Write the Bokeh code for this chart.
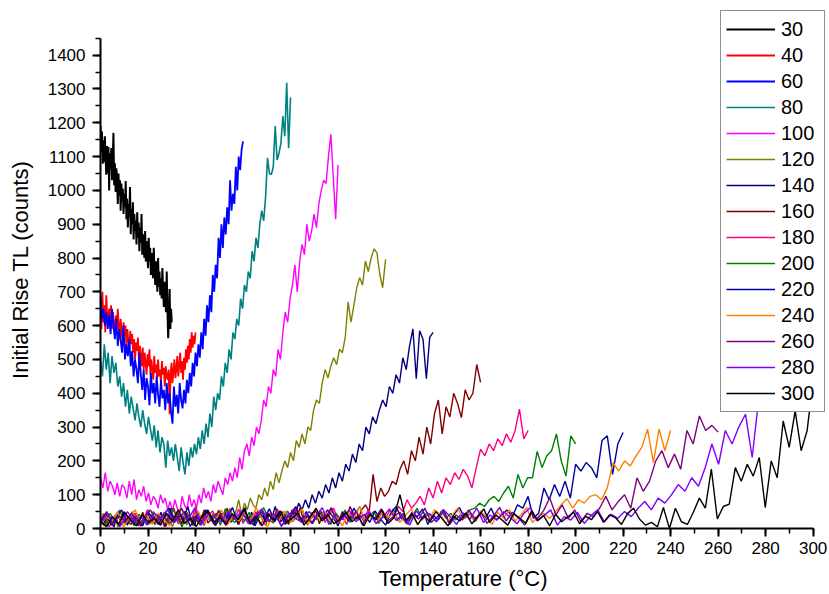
import numpy as np
from bokeh.plotting import figure
from bokeh.models import Range1d, SingleIntervalTicker
from bokeh.embed import file_html
from bokeh.resources import INLINE

# legend names = preheat temperature; each curve runs from 0 to that temperature
names = ["30", "40", "60", "80", "100", "120", "140", "160", "180", "200",
         "220", "240", "260", "280", "300"]
stops = [30, 40, 60, 80, 100, 120, 140, 160, 180, 200, 220, 240, 260, 280, 300]
colors = ["#000000", "#FF0000", "#0000FF", "#008080", "#FF00FF", "#808000",
          "#000080", "#800000", "#FF0080", "#008000", "#0000A0", "#FF8000",
          "#800080", "#8000FF", "#000000"]
widths = [2.0, 1.8, 1.8, 1.6, 1.4, 1.4, 1.4, 1.4, 1.4, 1.4, 1.4, 1.4, 1.4, 1.4, 1.4]

y30 = [1190, 1115, 1174, 1079, 1148, 1083, 1160, 1102, 1046, 1131,
       1051, 1128, 1000, 1110, 1062, 1125, 1030, 1092, 1170, 1015,
       1080, 995, 1065, 1040, 960, 1050, 985, 1030, 940, 1020,
       968, 1005, 930, 990, 950, 1028, 915, 975, 890, 960,
       920, 1010, 870, 945, 900, 965, 855, 930, 880, 910,
       840, 935, 860, 905, 820, 890, 845, 930, 810, 870,
       835, 800, 880, 790, 850, 820, 770, 860, 790, 830,
       750, 815, 770, 740, 830, 760, 720, 790, 745, 700,
       800, 715, 760, 690, 740, 680, 770, 700, 655, 730,
       680, 640, 760, 650, 563, 620, 708, 590, 650, 610]

y40 = [640, 590, 700, 610, 660, 580, 690, 625, 600, 650,
       620, 660, 590, 640, 605, 575, 630, 590, 650, 600,
       560, 620, 585, 545, 610, 570, 600, 540, 590, 555,
       530, 585, 545, 575, 520, 560, 500, 550, 525, 565,
       495, 540, 510, 480, 535, 470, 520, 490, 455, 515,
       480, 530, 455, 500, 470, 440, 510, 460, 485, 445,
       500, 450, 470, 430, 495, 455, 475, 420, 480, 450,
       440, 470, 338, 455, 490, 430, 465, 500, 445, 470,
       510, 450, 480, 520, 460, 495, 440, 505, 470, 530,
       490, 540, 500, 560, 520, 580, 535, 570, 545, 580]

y60 = [690, 620, 650, 600, 640, 590, 630, 575, 650, 600,
       560, 620, 540, 590, 555, 520, 600, 500, 545, 510,
       560, 480, 525, 450, 500, 470, 430, 520, 455, 410,
       470, 380, 445, 420, 365, 460, 400, 430, 370, 450,
       395, 360, 440, 385, 410, 350, 430, 370, 400, 345,
       310, 420, 360, 395, 340, 430, 380, 355, 410, 370,
       440, 400, 460, 420, 490, 450, 520, 480, 545, 505,
       580, 530, 620, 570, 660, 610, 690, 640, 750, 700,
       780, 740, 860, 800, 900, 830, 920, 870, 950, 900,
       1030, 940, 990, 960, 1070, 1000, 1100, 1060, 1120, 1145]

y80 = [500, 450, 545, 470, 520, 430, 510, 460, 490, 420,
       450, 390, 430, 360, 410, 340, 390, 355, 320, 370,
       330, 300, 350, 310, 280, 330, 295, 260, 305, 240,
       290, 225, 270, 250, 180, 260, 215, 240, 200, 250,
       210, 170, 240, 195, 160, 225, 185, 240, 210, 250,
       220, 270, 235, 290, 250, 310, 270, 340, 300, 390,
       350, 400, 380, 450, 420, 490, 460, 530, 500, 580,
       560, 620, 600, 680, 650, 720, 700, 760, 740, 820,
       790, 860, 830, 900, 940, 910, 980, 1096, 1050, 1047,
       1070, 1190, 1090, 1110, 1140, 1220, 1160, 1318, 1125, 1275]

y100 = [150, 120, 165, 110, 140, 125, 100, 135, 95, 130,
        120, 90, 140, 100, 145, 85, 115, 95, 125, 80,
        105, 70, 95, 85, 60, 100, 75, 90, 55, 80,
        50, 85, 60, 45, 95, 70, 55, 100, 65, 85,
        60, 100, 75, 120, 90, 110, 80, 130, 105, 140,
        120, 100, 150, 130, 165, 140, 180, 150, 210, 175,
        230, 250, 215, 270, 245, 300, 280, 320, 380, 360,
        420, 400, 470, 450, 530, 500, 580, 640, 610, 680,
        720, 780, 700, 790, 840, 810, 900, 850, 880, 930,
        890, 960, 1000, 1030, 1020, 1100, 1166, 1040, 915, 1075]

y120 = [20, 45, 8, 30, 15, 40, 5, 25, 35, 12,
        28, 50, 18, 35, 6, 22, 42, 14, 30, 10,
        38, 20, 48, 12, 26, 5, 33, 45, 18, 28,
        10, 40, 24, 52, 15, 30, 8, 36, 22, 44,
        30, 55, 20, 45, 35, 60, 28, 50, 85, 40,
        75, 55, 90, 70, 60, 100, 85, 120, 95, 140,
        115, 165, 135, 170, 200, 180, 225, 200, 260, 240,
        280, 250, 300, 290, 350, 380, 370, 430, 470, 445,
        480, 505, 485, 530, 520, 565, 670, 610, 660, 712,
        742, 720, 791, 760, 800, 827, 815, 752, 712, 796]

y140 = [30, 12, 45, 20, 5, 38, 25, 50, 10, 33,
        18, 42, 8, 28, 55, 15, 35, 22, 48, 6,
        30, 60, 20, 40, 12, 35, 65, 25, 8, 45,
        18, 38, 55, 25, 10, 42, 30, 15, 50, 28,
        40, 12, 35, 62, 22, 48, 8, 30, 55, 20,
        45, 30, 65, 25, 50, 38, 15, 55, 42, 75,
        55, 85, 60, 100, 75, 110, 90, 130, 105, 150,
        120, 165, 140, 190, 170, 220, 195, 250, 230, 300,
        280, 330, 310, 350, 380, 360, 420, 400, 455, 430,
        505, 470, 540, 590, 443, 585, 560, 443, 565, 580]

y160 = [25, 8, 40, 18, 32, 5, 45, 22, 12, 36,
        20, 48, 10, 30, 15, 42, 26, 6, 38, 18,
        50, 14, 28, 40, 10, 35, 22, 55, 16, 30,
        8, 42, 25, 60, 18, 34, 12, 46, 28, 38,
        15, 52, 30, 10, 44, 24, 58, 20, 36, 12,
        48, 28, 62, 18, 40, 30, 55, 14, 45, 25,
        60, 35, 20, 50, 30, 65, 40, 25, 55, 70,
        50, 160, 80, 120, 95, 110, 140, 130, 175, 200,
        160, 230, 200, 270, 220, 300, 250, 340, 380, 280,
        360, 330, 400, 370, 328, 410, 380, 400, 485, 432]

y180 = [15, 40, 5, 28, 50, 12, 35, 20, 45, 8,
        30, 55, 18, 38, 10, 42, 25, 60, 14, 33,
        48, 20, 65, 28, 12, 40, 52, 18, 35, 8,
        44, 26, 58, 15, 38, 22, 50, 10, 32, 46,
        20, 55, 30, 14, 42, 62, 25, 36, 10, 48,
        28, 52, 18, 40, 60, 24, 35, 12, 50, 30,
        42, 20, 58, 32, 15, 45, 28, 55, 38, 65,
        50, 85, 60, 75, 95, 70, 120, 90, 140, 105,
        150, 130, 165, 145, 175, 155, 120, 180, 235, 215,
        250, 230, 265, 245, 280, 255, 290, 353, 265, 290]

y200 = [30, 10, 45, 22, 55, 15, 38, 8, 42, 25,
        12, 50, 28, 40, 18, 60, 32, 5, 46, 20,
        36, 14, 52, 26, 44, 10, 58, 30, 18, 40,
        22, 48, 12, 35, 62, 28, 16, 44, 30, 52,
        20, 38, 58, 14, 42, 26, 50, 34, 12, 46,
        28, 55, 18, 40, 65, 24, 36, 50, 15, 42,
        30, 58, 22, 45, 12, 38, 60, 25, 48, 35,
        20, 52, 30, 45, 25, 40, 35, 55, 60, 75,
        65, 85, 95, 80, 105, 125, 90, 160, 120, 150,
        150, 228, 180, 215, 230, 280, 200, 155, 274, 250]

y220 = [20, 45, 10, 32, 55, 15, 40, 25, 8, 48,
        30, 12, 42, 60, 20, 35, 50, 6, 38, 22,
        55, 28, 14, 45, 32, 62, 18, 40, 26, 10,
        48, 30, 58, 20, 44, 12, 36, 65, 24, 50,
        15, 42, 28, 55, 35, 8, 46, 22, 60, 32,
        40, 18, 52, 28, 10, 45, 65, 30, 20, 48,
        35, 58, 12, 40, 25, 55, 18, 42, 62, 30,
        45, 20, 50, 32, 60, 25, 40, 55, 35, 70,
        60, 95, 30, 45, 120, 85, 130, 95, 140, 90,
        190, 170, 195, 180, 150, 260, 274, 160, 250, 284]

y240 = [10, 35, 22, 48, 5, 30, 55, 18, 40, 12,
        45, 25, 8, 38, 60, 20, 32, 50, 14, 42,
        28, 55, 10, 36, 22, 48, 16, 62, 30, 6,
        40, 24, 52, 18, 34, 58, 12, 44, 28, 50,
        20, 38, 8, 46, 30, 64, 22, 36, 14, 52,
        32, 48, 18, 40, 58, 10, 35, 25, 55, 42,
        15, 38, 60, 28, 45, 20, 52, 34, 12, 48,
        30, 55, 22, 40, 62, 18, 35, 45, 30, 50,
        70, 88, 60, 85, 75, 95, 100, 85, 120, 195,
        170, 200, 185, 215, 240, 294, 195, 294, 230, 290]

y260 = [25, 50, 12, 38, 20, 45, 8, 32, 55, 18,
        40, 15, 28, 60, 22, 35, 10, 48, 30, 52,
        18, 42, 26, 58, 12, 36, 50, 20, 44, 6,
        34, 56, 24, 40, 14, 48, 30, 62, 18, 38,
        26, 52, 10, 44, 30, 58, 20, 36, 48, 15,
        42, 28, 60, 18, 35, 50, 12, 40, 25, 55,
        30, 45, 15, 38, 62, 22, 48, 32, 10, 44,
        28, 52, 90, 40, 70, 30, 55, 20, 45, 35,
        60, 95, 55, 80, 100, 60, 150, 110, 140, 200,
        230, 180, 220, 175, 290, 250, 333, 290, 305, 285]

y280 = [15, 40, 28, 8, 50, 22, 35, 12, 45, 30,
        55, 18, 38, 25, 60, 10, 42, 32, 20, 48,
        28, 52, 14, 36, 58, 22, 40, 8, 46, 30,
        18, 50, 34, 62, 12, 40, 26, 55, 20, 38,
        48, 15, 32, 58, 24, 42, 10, 52, 30, 44,
        20, 56, 36, 12, 46, 28, 60, 18, 40, 25,
        50, 32, 14, 44, 62, 22, 38, 55, 10, 35,
        25, 48, 15, 38, 55, 20, 42, 30, 50, 35,
        60, 80, 55, 90, 75, 100, 130, 110, 150, 125,
        180, 250, 190, 290, 250, 300, 338, 210, 390, 430]

y300 = [20, 5, 35, 12, 48, 25, 8, 40, 18, 30,
        10, 45, 22, 55, 15, 30, 6, 38, 50, 20,
        32, 12, 44, 26, 58, 16, 36, 8, 42, 24,
        52, 18, 30, 46, 10, 34, 60, 22, 40, 14,
        28, 48, 20, 36, 8, 42, 26, 55, 15, 32,
        100, 24, 44, 12, 38, 20, 50, 30, 8, 36,
        22, 46, 14, 34, 58, 18, 40, 26, 10, 44,
        30, 16, 52, 24, 38, 8, 42, 20, 34, 48,
        14, 36, 26, 50, 18, 40, 32, 12, 44, 60,
        28, 10, 18, 5, 62, 0, 60, 20, 12, 48,
        90, 60, 176, 28, 65, 72, 180, 140, 190, 155,
        210, 62, 200, 150, 318, 240, 348, 230, 290, 440]

series = [y30, y40, y60, y80, y100, y120, y140, y160, y180, y200,
          y220, y240, y260, y280, y300]

FONT = "Liberation Sans"

# frame is larger than the axes (axes are bounded) so the legend box,
# which sticks out above / right of the axes, is not clipped
p = figure(width=829, height=594, output_backend="svg", toolbar_location=None,
           x_range=Range1d(0, 305.2), y_range=Range1d(0, 1532),
           min_border_left=100, min_border_right=4,
           min_border_top=10, min_border_bottom=66)
p.background_fill_color = "white"
p.border_fill_color = "white"
p.outline_line_color = None
p.xgrid.visible = False
p.ygrid.visible = False

for name, stop, col, lw, ys in zip(names, stops, colors, widths, series):
    xs = np.linspace(0, stop, len(ys))
    p.line(xs, ys, line_color=col, line_width=lw, legend_label=name)

p.xaxis.ticker = SingleIntervalTicker(interval=20, num_minor_ticks=2)
p.yaxis.ticker = SingleIntervalTicker(interval=100, num_minor_ticks=2)
p.xaxis.bounds = (0, 300)
p.yaxis.bounds = (0, 1450)

for ax in (p.xaxis[0], p.yaxis[0]):
    ax.axis_line_width = 2
    ax.axis_line_color = "black"
    ax.major_tick_line_width = 2
    ax.minor_tick_line_width = 1.5
    ax.major_tick_in = 0
    ax.major_tick_out = 8
    ax.minor_tick_in = 0
    ax.minor_tick_out = 5
    ax.major_label_text_font = FONT
    ax.major_label_text_font_size = "17px"
    ax.major_label_text_color = "black"
    ax.axis_label_text_font = FONT
    ax.axis_label_text_font_size = "22px"
    ax.axis_label_text_font_style = "normal"
    ax.axis_label_text_color = "black"

p.xaxis.axis_label = "Temperature (°C)"
p.yaxis.axis_label = "Initial Rise TL (counts)"
p.xaxis.major_label_standoff = 5
p.yaxis.major_label_standoff = 7
p.xaxis.axis_label_standoff = 9
p.yaxis.axis_label_standoff = 12

lg = p.legend[0]
lg.location = (620, 116)
lg.label_text_font = FONT
lg.label_text_font_size = "20px"
lg.label_text_color = "black"
lg.glyph_width = 49
lg.glyph_height = 26
lg.label_height = 26
lg.label_width = 38
lg.label_standoff = 6
lg.spacing = 0
lg.padding = 5
lg.margin = 0
lg.border_line_color = "#222222"
lg.border_line_width = 1.5
lg.background_fill_color = "white"
lg.background_fill_alpha = 1.0

open("out.html", "w").write(file_html(p, INLINE))
